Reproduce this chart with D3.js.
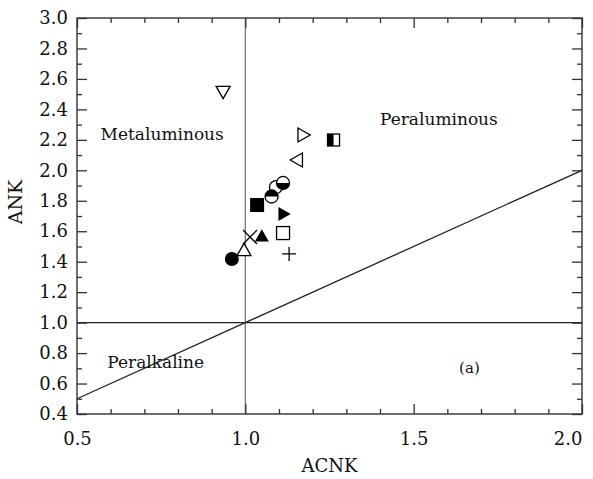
<!DOCTYPE html>
<html><head><meta charset="utf-8">
<script src="https://cdn.jsdelivr.net/npm/d3@7"></script>
<style>body{margin:0;background:#fff}svg{display:block}text{font-family:"DejaVu Serif",serif;fill:#111}</style>
</head><body><svg id="c" width="593" height="479"></svg>
<script>
const acnk = [0.934, 1.173, 1.262, 1.153, 1.091, 1.112, 1.078, 1.035, 1.115, 1.112, 1.130, 1.049, 1.014, 0.996, 0.960];
const ank  = [2.514, 2.232, 2.199, 2.068, 1.890, 1.917, 1.828, 1.772, 1.713, 1.588, 1.451, 1.569, 1.562, 1.477, 1.418];
const markers = ["triDownOpen","triRightOpen","halfSquare","triLeftOpen","circleOpen","halfCircleBottom","halfCircleTop","squareFilled","triRightFilled","squareOpen","plus","triUpFilled","cross","triUpOpen","circleFilled"];
const xTickLabels = ["0.5","1.0","1.5","2.0"];
const yTickLabels = ["0.4","0.6","0.8","1.0","1.2","1.4","1.6","1.8","2.0","2.2","2.4","2.6","2.8","3.0"];
const refLines = [{x1:1.0,y1:0.4,x2:1.0,y2:3.0,c:"#777"},{x1:0.5,y1:1.0,x2:2.0,y2:1.0,c:"#222"},{x1:0.5,y1:0.5,x2:2.0,y2:2.0,c:"#222"}];
const regionLabels = [{t:"Metaluminous",x:0.57,y:2.2},{t:"Peraluminous",x:1.4,y:2.3},{t:"Peralkaline",x:0.59,y:0.70}];

const L=77,R=582,T=18,B=414;
const x=d3.scaleLinear().domain([0.5,2.0]).range([L,R]);
const y=d3.scaleLinear().domain([0.4,3.0]).range([B,T]);
const svg=d3.select("#c");
const FF="'DejaVu Serif', serif";

svg.selectAll("line.ref").data(refLines).enter().append("line")
 .attr("x1",d=>x(d.x1)).attr("y1",d=>y(d.y1)).attr("x2",d=>x(d.x2)).attr("y2",d=>y(d.y2))
 .attr("stroke",d=>d.c).attr("stroke-width",1.3);

const xt=d3.range(0.5,2.0001,0.1).map(v=>+v.toFixed(1));
const yt=d3.range(0.4,3.0001,0.1).map(v=>+v.toFixed(1));
const isMajX=v=>Math.abs(v*2-Math.round(v*2))<1e-6;
const isMajY=v=>Math.abs(v*5-Math.round(v*5))<1e-6;
function fmtX(v){return isMajX(v)?xTickLabels[Math.round((v-0.5)*2)]:"";}
function fmtY(v){return isMajY(v)?yTickLabels[Math.round((v-0.4)*5)]:"";}
function styl(g){g.attr("font-family",FF);g.select(".domain").remove();g.selectAll("line").attr("stroke","#333").attr("stroke-width",1.3);g.selectAll("text").attr("font-size",18).style("font-family",FF).attr("fill","#111");}
const gxB=svg.append("g").attr("transform",`translate(0,${B})`).call(d3.axisBottom(x).tickValues(xt).tickFormat(fmtX).tickSizeInner(0).tickPadding(18));
gxB.selectAll(".tick").append("line").attr("y2",d=>isMajX(d)?-10:-5);
styl(gxB);
gxB.selectAll(".tick text").filter(d=>Math.abs(d-2.0)<1e-6).attr("text-anchor","end").attr("x",0);
const gxT=svg.append("g").attr("transform",`translate(0,${T})`).call(d3.axisTop(x).tickValues(xt).tickFormat("").tickSizeInner(0));
gxT.selectAll(".tick").append("line").attr("y2",d=>isMajX(d)?10:5);
styl(gxT);
const gyL=svg.append("g").attr("transform",`translate(${L},0)`).call(d3.axisLeft(y).tickValues(yt).tickFormat(fmtY).tickSizeInner(0).tickPadding(9));
gyL.selectAll(".tick").append("line").attr("x2",d=>isMajY(d)?10:5);
styl(gyL);
const gyR=svg.append("g").attr("transform",`translate(${R},0)`).call(d3.axisRight(y).tickValues(yt).tickFormat("").tickSizeInner(0));
gyR.selectAll(".tick").append("line").attr("x2",d=>isMajY(d)?-10:-5);
styl(gyR);
svg.append("rect").attr("x",L).attr("y",T).attr("width",R-L).attr("height",B-T).attr("fill","none").attr("stroke","#333").attr("stroke-width",1.4);

svg.append("text").attr("x",(L+R)/2).attr("y",472).attr("text-anchor","middle").attr("font-size",18).text("ACNK");
svg.append("text").attr("transform",`translate(22,202) rotate(-90)`).attr("text-anchor","middle").attr("font-size",19).text("ANK");

svg.selectAll("text.reg").data(regionLabels).enter().append("text").attr("font-size",17)
 .attr("x",d=>x(d.x)).attr("y",d=>y(d.y)).text(d=>d.t);
svg.append("text").attr("x",x(1.635)).attr("y",y(0.67)).attr("font-size",15).text("(a)");

const s=7;
function draw(g,m){
 const k="#000",w=1.3;
 switch(m){
  case "triDownOpen": g.append("path").attr("d",`M${-s},${-s*0.8}L${s},${-s*0.8}L0,${s*0.95}Z`).attr("fill","#fff").attr("stroke",k).attr("stroke-width",w);break;
  case "triRightOpen": g.append("path").attr("d",`M${-s*0.8},${-s}L${s*0.95},0L${-s*0.8},${s}Z`).attr("fill","#fff").attr("stroke",k).attr("stroke-width",w);break;
  case "triLeftOpen": g.append("path").attr("d",`M${s*0.8},${-s}L${-s*0.95},0L${s*0.8},${s}Z`).attr("fill","#fff").attr("stroke",k).attr("stroke-width",w);break;
  case "triRightFilled": g.append("path").attr("d",`M${-s*0.8},${-s}L${s*0.95},0L${-s*0.8},${s}Z`).attr("fill",k);break;
  case "triUpFilled": g.append("path").attr("d",`M${-s},${s*0.8}L${s},${s*0.8}L0,${-s*0.95}Z`).attr("fill",k);break;
  case "triUpOpen": g.append("path").attr("d",`M${-s},${s*0.8}L${s},${s*0.8}L0,${-s*0.95}Z`).attr("fill","#fff").attr("stroke",k).attr("stroke-width",w);break;
  case "halfSquare": g.append("rect").attr("x",-s+1).attr("y",-s+1).attr("width",2*s-2).attr("height",2*s-2).attr("fill","#fff").attr("stroke",k).attr("stroke-width",w);
    g.append("rect").attr("x",-s+1).attr("y",-s+1).attr("width",s-1).attr("height",2*s-2).attr("fill",k);break;
  case "squareFilled": g.append("rect").attr("x",-s).attr("y",-s).attr("width",2*s).attr("height",2*s).attr("fill",k);break;
  case "squareOpen": g.append("rect").attr("x",-s+0.5).attr("y",-s+0.5).attr("width",2*s-1).attr("height",2*s-1).attr("fill","#fff").attr("stroke",k).attr("stroke-width",w);break;
  case "circleOpen": g.append("circle").attr("r",s-0.5).attr("fill","#fff").attr("stroke",k).attr("stroke-width",w);break;
  case "circleFilled": g.append("circle").attr("r",s).attr("fill",k);break;
  case "halfCircleBottom": g.append("circle").attr("r",s-0.5).attr("fill","#fff").attr("stroke",k).attr("stroke-width",w);
    g.append("path").attr("d",`M${-s+0.5},0A${s-0.5},${s-0.5} 0 0 0 ${s-0.5},0Z`).attr("fill",k);break;
  case "halfCircleTop": g.append("circle").attr("r",s-0.5).attr("fill","#fff").attr("stroke",k).attr("stroke-width",w);
    g.append("path").attr("d",`M${-s+0.5},0A${s-0.5},${s-0.5} 0 0 1 ${s-0.5},0Z`).attr("fill",k);break;
  case "plus": g.append("path").attr("d",`M${-s},0L${s},0M0,${-s}L0,${s}`).attr("stroke",k).attr("stroke-width",w);break;
  case "cross": g.append("path").attr("d",`M${-s},${-s}L${s},${s}M${-s},${s}L${s},${-s}`).attr("stroke",k).attr("stroke-width",w);break;
 }
}
const pts=acnk.map((v,i)=>({x:v,y:ank[i],m:markers[i]}));
svg.selectAll("g.pt").data(pts).enter().append("g").attr("class","pt")
 .attr("transform",d=>`translate(${x(d.x)},${y(d.y)})`).each(function(d){draw(d3.select(this),d.m);});
</script></body></html>
